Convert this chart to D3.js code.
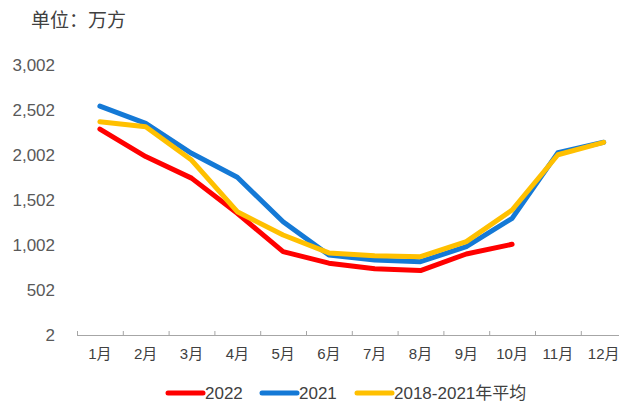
<!DOCTYPE html>
<html lang="zh">
<head>
<meta charset="utf-8">
<style>
  body { margin: 0; background: #fff; }
  svg text { font-family: "Liberation Sans", Arial, "Noto Sans CJK SC", sans-serif; }
</style>
</head>
<body>
<svg width="619" height="403"></svg>
<script src="https://cdn.jsdelivr.net/npm/d3@7"></script>
<script>
var months = ['1月', '2月', '3月', '4月', '5月', '6月', '7月', '8月', '9月', '10月', '11月', '12月']
var yTicks = [2, 502, 1002, 1502, 2002, 2502, 3002]

// 2022 only up to October
var s2022 = [2290, 1985, 1745, 1355, 928, 800, 737, 718, 902, 1010]
var s2021 = [2545, 2354, 2021, 1754, 1261, 891, 835, 817, 983, 1298, 2028, 2143]
var sAvg  = [2372, 2317, 1946, 1372, 1113, 914, 883, 872, 1039, 1391, 2005, 2143]

var series = [
  { name: '2022', values: s2022, color: '#ff0000' },
  { name: '2021', values: s2021, color: '#1479d6' },
  { name: '2018-2021年平均', values: sAvg, color: '#ffc000' }
]

var svg = d3.select('svg')

var x = d3.scaleBand()
  .domain(months)
  .range([77, 77 + 12 * 45.8])

var y = d3.scaleLinear()
  .domain([2, 3002])
  .range([335, 65])

// unit label
svg.append('text')
  .attr('x', 31)
  .attr('y', 27)
  .attr('font-size', 19)
  .attr('fill', '#404040')
  .style('font-family', '"Noto Sans CJK SC", sans-serif')
  .text('单位：万方')

// y axis labels, no line
var yAxis = svg.append('g')
  .attr('transform', 'translate(60,0)')
  .call(d3.axisLeft(y).tickValues(yTicks).tickSize(0).tickPadding(5).tickFormat(d3.format(',')))
yAxis.select('.domain').remove()
yAxis.selectAll('text')
  .attr('font-size', 17)
  .attr('fill', '#595959')

// x axis
var xAxis = svg.append('g')
  .attr('transform', 'translate(0,335)')
  .call(d3.axisBottom(x).tickSize(0).tickPadding(13))
xAxis.select('.domain').attr('stroke', '#a6a6a6').attr('d', 'M77,0.5H619')
xAxis.selectAll('text')
  .attr('font-size', 15)
  .attr('fill', '#404040')
  .style('font-family', '"Liberation Sans", "Noto Sans CJK SC", sans-serif')

// tick marks on category borders
xAxis.selectAll('line.border')
  .data(d3.range(13))
  .enter().append('line')
  .attr('class', 'border')
  .attr('x1', function (i) { return 77.5 + i * x.step() })
  .attr('x2', function (i) { return 77.5 + i * x.step() })
  .attr('y1', -4)
  .attr('y2', 0.5)
  .attr('stroke', '#a6a6a6')

var line = d3.line()
  .x(function (d, i) { return x(months[i]) + x.bandwidth() / 2 })
  .y(function (d) { return y(d) })

svg.append('g').selectAll('path')
  .data(series)
  .enter().append('path')
  .attr('d', function (d) { return line(d.values) })
  .attr('fill', 'none')
  .attr('stroke', function (d) { return d.color })
  .attr('stroke-width', 5)
  .attr('stroke-linecap', 'round')
  .attr('stroke-linejoin', 'round')

// legend
var legendX = [168, 262, 357]
var legend = svg.append('g')
  .selectAll('g')
  .data(series)
  .enter().append('g')
  .attr('transform', function (d, i) { return 'translate(' + legendX[i] + ',393)' })

legend.append('line')
  .attr('x1', 0)
  .attr('x2', 35)
  .attr('stroke', function (d) { return d.color })
  .attr('stroke-width', 5)
  .attr('stroke-linecap', 'round')

legend.append('text')
  .attr('x', 37)
  .attr('dy', '0.35em')
  .attr('font-size', 17)
  .attr('fill', '#404040')
  .text(function (d) { return d.name })
</script>
</body>
</html>
